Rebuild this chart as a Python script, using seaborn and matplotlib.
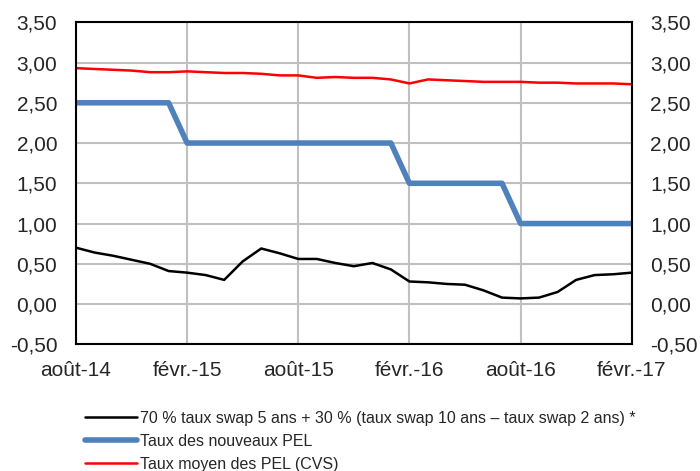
import numpy as np
import pandas as pd
import matplotlib
matplotlib.use("Agg")
import matplotlib.pyplot as plt
import seaborn as sns

# ---------------------------
# Data (monthly, août-14 -> févr.-17)
# ---------------------------
months = pd.date_range("2014-08-01", "2017-02-01", freq="MS")
tick_labels = ["août-14", "févr.-15", "août-15", "févr.-16", "août-16", "févr.-17"]

swap_mix = [0.70, 0.64, 0.60, 0.55, 0.50, 0.41, 0.39, 0.36, 0.30, 0.53,
            0.69, 0.63, 0.56, 0.56, 0.51, 0.47, 0.51, 0.43, 0.28, 0.27,
            0.25, 0.24, 0.17, 0.08, 0.07, 0.08, 0.15, 0.30, 0.36, 0.37,
            0.39]
new_pel = [2.5] * 6 + [2.0] * 12 + [1.5] * 6 + [1.0] * 7
avg_pel = [2.93, 2.92, 2.91, 2.90, 2.88, 2.88, 2.89, 2.88, 2.87, 2.87,
           2.86, 2.84, 2.84, 2.81, 2.82, 2.81, 2.81, 2.79, 2.74, 2.79,
           2.78, 2.77, 2.76, 2.76, 2.76, 2.75, 2.75, 2.74, 2.74, 2.74,
           2.73]

lbl_swap = "70 % taux swap 5 ans + 30 % (taux swap 10 ans – taux swap 2 ans) *"
lbl_new = "Taux des nouveaux PEL"
lbl_avg = "Taux moyen des PEL (CVS)"

df = pd.DataFrame({"idx": np.arange(len(months)),
                   lbl_swap: swap_mix, lbl_new: new_pel, lbl_avg: avg_pel})

# ---------------------------
# Plot
# ---------------------------
sns.set_style("white")
plt.rcParams["font.family"] = ["Liberation Sans", "DejaVu Sans"]

fig = plt.figure(figsize=(7.0, 4.71), dpi=100)
ax = fig.add_axes([0.1086, 0.269, 0.7938, 0.6837])

sns.lineplot(data=df, x="idx", y=lbl_swap, ax=ax, color="black", lw=1.8, label=lbl_swap)
sns.lineplot(data=df, x="idx", y=lbl_new, ax=ax, color="#4f81bd", lw=4, label=lbl_new)
sns.lineplot(data=df, x="idx", y=lbl_avg, ax=ax, color="#ff0000", lw=1.8, label=lbl_avg)

ax.set_xlim(0, len(months) - 1)
ax.set_ylim(-0.5, 3.5)
yt = np.arange(-0.5, 3.51, 0.5)
ax.set_yticks(yt)
ylabs = [f"{v:.2f}".replace(".", ",") for v in yt]
ax.set_yticklabels(ylabs, fontsize=15)
ax.set_xticks(np.arange(0, len(months), 6))
ax.set_xticklabels(tick_labels, fontsize=15)
ax.set_xlabel("")
ax.set_ylabel("")
ax.grid(True, color="#c0c0c0", lw=1.5)
ax.tick_params(axis="y", length=0, pad=13.5)
ax.tick_params(axis="x", length=0, pad=12)
for s in ax.spines.values():
    s.set_color("black")
    s.set_linewidth(1.5)

ax2 = ax.twinx()
ax2.set_ylim(-0.5, 3.5)
ax2.set_yticks(yt)
ax2.set_yticklabels(ylabs, fontsize=15)
ax2.tick_params(length=0, pad=13.5)
for s in ax2.spines.values():
    s.set_visible(False)

h, l = ax.get_legend_handles_labels()
ax.get_legend().remove()
fig.legend(h, l, loc="upper left", bbox_to_anchor=(77 / 700, 1 - 403 / 471), frameon=False,
           fontsize=11.5, handlelength=3.25, labelspacing=0.5, borderpad=0, handletextpad=0.2)

plt.savefig("out.png", dpi=100)
